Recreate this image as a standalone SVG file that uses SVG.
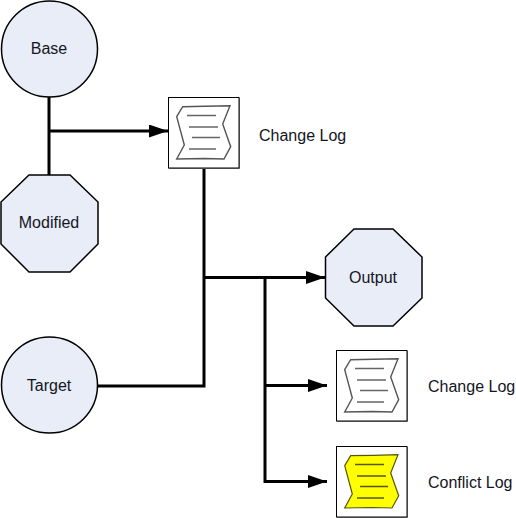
<svg xmlns="http://www.w3.org/2000/svg" width="516" height="518" viewBox="0 0 516 518">
<style>
.shape{fill:#e8edf7;stroke:#000;stroke-width:1.5}
.box{fill:#fff;stroke:#000;stroke-width:1}
.shadow{fill:none;stroke:#8a8a8a;stroke-width:1}
.doc{fill:#fff;stroke:#555;stroke-width:1.4}
.docy{fill:#ffff00;stroke:#555510;stroke-width:1.2}
.ln{stroke:#666;stroke-width:1.5;fill:none}
.lny{stroke:#555510;stroke-width:1.5;fill:none}
.wire{stroke:#000;stroke-width:3;fill:none}
text{font-family:"Liberation Sans",Arial,sans-serif;font-size:16px;fill:#15151f}
.c{text-anchor:middle}
</style>
<defs>
<marker id="arrow" markerUnits="userSpaceOnUse" markerWidth="20" markerHeight="14" refX="19" refY="6.500" orient="auto">
<path d="M0 0L19 6.500L0 13Z" fill="#000"/>
</marker>
<g id="docshape">
<path d="M14.700 9.700L37 9.300L62 8.700L54.700 27L62.700 49.700L56 62L36 61.500L8.700 62L16.300 48L8.700 19.700Z"/>
</g>
</defs>
<g id="connectors">
<path class="wire" d="M49 97V175"/>
<path class="wire" d="M49 131H168" marker-end="url(#arrow)"/>
<path class="wire" d="M204 168V386H97"/>
<path class="wire" d="M204 277.500H325" marker-end="url(#arrow)"/>
<path class="wire" d="M265 277.500V481.500H327" marker-end="url(#arrow)"/>
<path class="wire" d="M265 385.500H327" marker-end="url(#arrow)"/>
</g>
<g id="base">
<circle class="shape" cx="49.500" cy="49" r="48"/>
<text class="c" x="49" y="54">Base</text>
</g>
<g id="modified">
<path class="shape" d="M29 175H70L98 202V244L70 272H29L1 244V202Z"/>
<text class="c" x="49" y="228">Modified</text>
</g>
<g id="target">
<circle class="shape" cx="49.500" cy="385" r="48"/>
<text class="c" x="49" y="391">Target</text>
</g>
<g id="output">
<path class="shape" d="M354 229H393L422 257V298L393 326H354L325.500 298V257Z"/>
<text class="c" x="373" y="283">Output</text>
</g>
<g id="changelog1">
<path class="shadow" d="M239.500 98V168.500H169"/>
<rect class="box" x="168.500" y="97.500" width="70.500" height="70.500"/>
<use href="#docshape" x="168" y="97" class="doc"/>
<path class="ln" d="M187 115.500H216M189 127H218M192 137.500H220M189 149H216"/>
<text x="259" y="141">Change Log</text>
</g>
<g id="changelog2">
<path class="shadow" d="M407.500 351V421.500H337"/>
<rect class="box" x="336.500" y="350.500" width="70.500" height="70.500"/>
<use href="#docshape" x="336" y="350" class="doc"/>
<path class="ln" d="M355 368.500H384M357 380H386M360 390.500H388M357 402H384"/>
<text x="428" y="392">Change Log</text>
</g>
<g id="conflictlog">
<path class="shadow" d="M407.500 447V517.500H337"/>
<rect class="box" x="336.500" y="446.500" width="70.500" height="70.500"/>
<use href="#docshape" x="336" y="446" class="docy"/>
<path class="lny" d="M355 464.500H384M357 476H386M360 486.500H388M357 498H384"/>
<text x="428" y="488">Conflict Log</text>
</g>
</svg>
